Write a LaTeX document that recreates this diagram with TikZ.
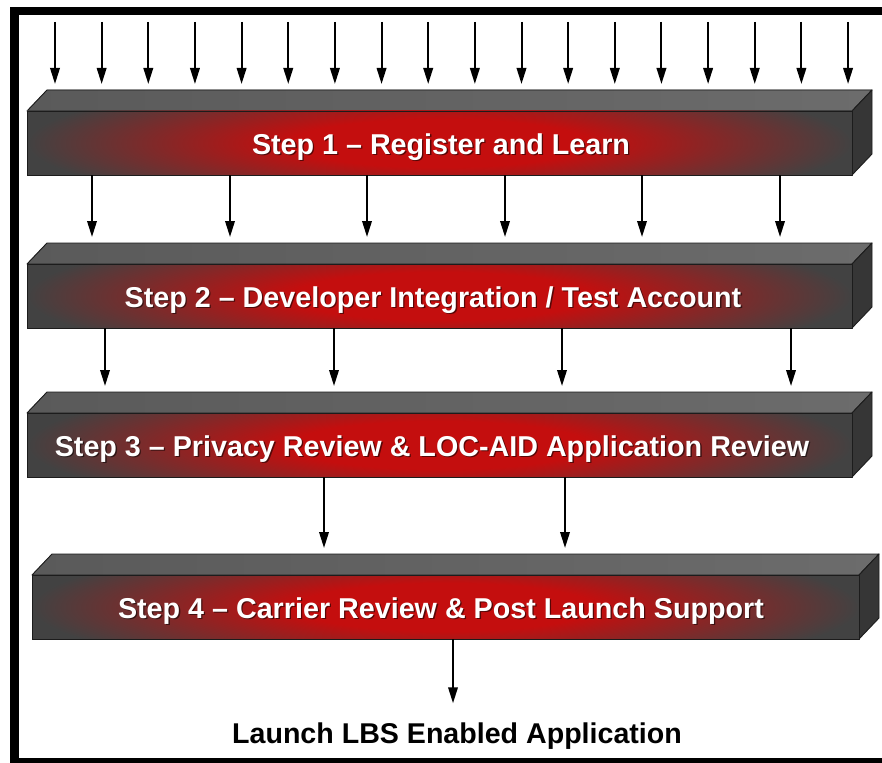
\documentclass[tikz,border=0pt]{standalone}
\usepackage{fontspec}
\setmainfont{Liberation Sans}
\usetikzlibrary{arrows.meta}

\definecolor{slabgray}{HTML}{424242}
\definecolor{glowred}{HTML}{C40E0E}
\definecolor{slabedge}{HTML}{1C1C1C}
\definecolor{sidegray}{HTML}{363636}
\definecolor{topL}{HTML}{5A5A5A}
\definecolor{topM}{HTML}{885454}
\definecolor{topR}{HTML}{6C6C6C}

% red glow in the middle of each slab's front face
% (the path's bounding box covers the inner 25bp radius)
\pgfdeclareradialshading{slabglow}{\pgfpoint{0bp}{0bp}}{%
  color(0bp)=(glowred); color(9bp)=(glowred);
  color(25bp)=(slabgray); color(50bp)=(slabgray)}

\tikzset{
  slabline/.style={draw=slabedge, line width=0.9pt, line join=round},
  slabface/.style={slabline, rectangle, inner sep=0pt, outer sep=0pt},
  steptext/.style={font=\bfseries\fontsize{28.7}{34}\selectfont, text=white,
    anchor=base, inner sep=0pt},
  flow/.style={line width=2pt, -{Triangle[length=16pt,width=9.5pt]}},
}

% \slab{name}{x1}{y1}{x2}{y2}{text centre x}{text}
% (x1,y1)--(x2,y2) is the front face; the slab recedes 20 right and 21 up
\newcommand\slab[7]{%
  \filldraw[slabline, left color=topL, middle color=topM, right color=topR]
    (#2,#3) -- (#2+20,#3-21) -- (#4+20,#3-21) -- (#4,#3) -- cycle;
  \filldraw[slabline, fill=sidegray]
    (#4,#3) -- (#4+20,#3-21) -- (#4+20,#5-21) -- (#4,#5) -- cycle;
  \begin{scope}
    \clip (#2,#3) rectangle (#4,#5);
    \shade[shading=slabglow] (#2,#3-35) rectangle (#4,#5+35);
  \end{scope}
  \node[slabface, minimum width={(#4-#2)*1pt}, minimum height={(#5-#3)*1pt}]
    (#1) at ({(#2+#4)/2},{(#3+#5)/2}) {};
  \coordinate (#1in) at (#2,#3-27);
  \node[steptext, text=black, opacity=.55] at (#6+1.3,{(#3+#5)/2+12.3}) {#7};
  \node[steptext] at (#6,{(#3+#5)/2+11}) {#7};
}

\begin{document}
\begin{tikzpicture}[x=1pt,y=-1pt]
  \fill[white] (0,0) rectangle (882,762);
  \useasboundingbox (0,0) rectangle (882,762);

  % frame
  \draw[line width=8.5pt] (14.5,11) rectangle (900,762);

  % the four stages
  \slab{f1}{27}{111}{852}{175}{441}{Step 1 – Register and Learn}
  \slab{f2}{27}{264}{852}{328}{433}{Step 2 – Developer Integration / Test Account}
  \slab{f3}{27}{413}{852}{477}{432}{Step 3 – Privacy Review \& LOC-AID Application Review}
  \slab{f4}{32}{575}{859}{639}{441}{Step 4 – Carrier Review \& Post Launch Support}

  \node[font=\bfseries\fontsize{28.6}{34}\selectfont, anchor=base,
        inner xsep=0pt, inner ysep=19pt, outer sep=0pt]
    (launch) at (457,743) {Launch LBS Enabled Application};

  % incoming arrows
  \coordinate (src) at (0,22);
  \foreach \i in {0,...,17}
    \draw[flow] (src -| {55+46.65*\i},0) -- (f1in -| {55+46.65*\i},0);

  % arrows between stages
  \foreach \x in {92,230,367,505,642,780}
    \draw[flow] (f1.south -| \x,0) -- (f2in -| \x,0);
  \foreach \x in {105,334,562,791}
    \draw[flow] (f2.south -| \x,0) -- (f3in -| \x,0);
  \foreach \x in {324,565}
    \draw[flow] (f3.south -| \x,0) -- (f4in -| \x,0);
  \draw[flow] (f4.south -| 453,0) -- (launch.north -| 453,0);
\end{tikzpicture}
\end{document}
